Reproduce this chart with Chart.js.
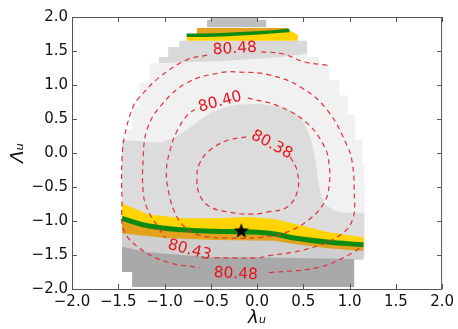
<!DOCTYPE html>
<html>
<head>
<meta charset="utf-8">
<script src="https://cdn.jsdelivr.net/npm/chart.js@4"></script>
<style>
  html, body { margin: 0; padding: 0; background: #fff; }
  #wrap { width: 458px; height: 329px; }
</style>
</head>
<body>
<div id="wrap"><canvas id="chart"></canvas></div>
<script>
const tickVals = [-2, -1.5, -1, -0.5, 0, 0.5, 1, 1.5, 2];

// filled regions, [lambda_u, Lambda_u]
const envelope = [[-1.16,1.32],[-1.06,1.32],[-1.06,1.41],[-0.96,1.41],[-0.96,1.56],[-0.84,1.56],[-0.84,1.65],
  [0.54,1.65],[0.54,1.41],[0.67,1.41],[0.67,1.29],[0.78,1.29],[0.78,1.07],[0.89,1.07],[0.89,0.85],[0.98,0.85],
  [0.98,0.56],[1.06,0.56],[1.06,0.19],[1.14,0.19],[1.14,-0.18],[1.16,-0.18],[1.16,-1.54],[-1.46,-1.54],
  [-1.46,0.19],[-1.41,0.19],[-1.41,0.34],[-1.35,0.34],[-1.35,0.68],[-1.27,0.68],[-1.27,1.03],[-1.16,1.03]];
const upperCap = [[-1.06,1.32],[-1.06,1.41],[-0.96,1.41],[-0.96,1.56],[-0.84,1.56],[-0.84,1.65],[0.54,1.65],
  [0.54,1.46],[0.24,1.41],[-0.08,1.38],[-0.40,1.35],[-0.73,1.34]];
const centerBlob = [[-1.46,0.19],[-1.05,0.15],[-0.90,0.22],[-0.76,0.34],[-0.51,0.59],[-0.36,0.67],[-0.22,0.71],
  [0.02,0.72],[0.25,0.68],[0.42,0.58],[0.51,0.44],[0.59,0.18],[0.63,-0.10],[0.66,-0.40],[0.69,-0.62],
  [0.74,-0.76],[0.84,-0.85],[0.96,-0.88],[1.16,-0.88],[1.16,-1.54],[-1.46,-1.54]];
const darkBase = [[-1.46,-1.38],[-1.18,-1.46],[-0.81,-1.50],[-0.46,-1.53],[0.26,-1.54],[1.05,-1.56],
  [1.05,-1.97],[-1.35,-1.97],[-1.35,-1.75],[-1.46,-1.75]];
const capBlock = [[-0.54,1.85],[-0.54,1.96],[-0.49,1.96],[-0.49,2.0],[0.01,2.0],[0.01,1.96],[0.10,1.96],[0.10,1.85]];
const capGold = [[-0.65,1.84],[0.33,1.84],[0.35,1.80],[0.03,1.77],[-0.40,1.74],[-0.65,1.735]];
const capGreen = [[-0.76,1.73],[-0.40,1.74],[0.03,1.77],[0.35,1.80]];
const capYellowEdge = [[0.44,1.74],[0.44,1.65],[-0.76,1.65]];

const bandYellowTop = [[-1.46,-0.74],[-1.18,-0.90],[-0.81,-0.96],[-0.46,-0.96],[-0.10,-0.94],[0.19,-0.97],[0.40,-1.04],[0.76,-1.16],[1.15,-1.24]];
const bandGreen = [[-1.46,-0.96],[-1.18,-1.07],[-0.81,-1.13],[-0.46,-1.15],[-0.10,-1.16],[0.19,-1.19],[0.40,-1.25],[0.76,-1.31],[1.15,-1.35]];
const bandOrangeBottom = [[-1.46,-1.18],[-1.00,-1.25],[-0.46,-1.28],[0.19,-1.29],[0.40,-1.34],[0.76,-1.40],[1.15,-1.44]];

// contour levels (dashed), broken where the labels sit
const c38 = [[0.36,-0.06],[0.43,-0.25],[0.44,-0.54],[0.33,-0.79],[0.11,-0.87],[-0.08,-0.90],[-0.30,-0.87],
  [-0.51,-0.79],[-0.62,-0.62],[-0.65,-0.37],[-0.62,-0.15],[-0.51,0.04],[-0.33,0.18],[-0.11,0.24]];
const c40 = [[-0.10,0.81],[0.25,0.68],[0.54,0.44],[0.73,0.09],[0.78,-0.18],[0.78,-0.47],[0.73,-0.72],[0.58,-0.96],
  [0.33,-1.16],[0.04,-1.24],[-0.32,-1.25],[-0.62,-1.21],[-0.78,-1.09],[-0.89,-0.87],[-0.96,-0.54],[-0.98,-0.25],
  [-0.94,0.04],[-0.87,0.31],[-0.75,0.56],[-0.65,0.66]];
const c43 = [[-0.46,-1.54],[0.01,-1.54],[0.13,-1.51],[0.49,-1.43],[0.86,-1.24],[1.03,-0.99],[1.05,-0.54],[1.03,-0.15],
  [0.98,0.09],[0.76,0.63],[0.47,0.97],[0.13,1.15],[-0.19,1.19],[-0.40,1.18],[-0.76,1.03],[-1.05,0.68],[-1.19,0.34],
  [-1.23,-0.06],[-1.23,-0.59],[-1.18,-0.84],[-1.07,-1.09],[-0.99,-1.25]];
const c48a = [[0.76,1.29],[0.51,1.34],[0.27,1.46],[0.03,1.49]];
const c48b = [[-0.54,1.44],[-0.76,1.37],[-1.05,1.12],[-1.27,0.82],[-1.34,0.68],[-1.43,0.26],[-1.46,-0.10],
  [-1.46,-0.69],[-1.44,-1.13],[-1.27,-1.40],[-0.98,-1.60],[-0.62,-1.69]];
const c48c = [[0.13,-1.76],[0.67,-1.68],[1.03,-1.47],[1.15,-1.35]];

const levelLabels = [
  { text: "80.48", x: -0.24, y: 1.53, rot: -3 },
  { text: "80.40", x: -0.40, y: 0.75, rot: -15 },
  { text: "80.38", x: 0.16, y: 0.12, rot: 28 },
  { text: "80.43", x: -0.73, y: -1.43, rot: 15 },
  { text: "80.48", x: -0.23, y: -1.78, rot: 3 },
];

const bestFit = [{ x: -0.17, y: -1.15 }];

const pts = (a) => a.map(([x, y]) => ({ x, y }));
const fmt = (v) => v.toFixed(1).replace("-", "\u2212");

function starImage(r) {
  const c = document.createElement("canvas");
  c.width = c.height = 2 * r + 2;
  const g = c.getContext("2d");
  g.beginPath();
  for (let i = 0; i < 10; i++) {
    const a = -Math.PI / 2 + (i * Math.PI) / 5;
    const rr = i % 2 ? r * 0.42 : r;
    g.lineTo(r + 1 + rr * Math.cos(a), r + 1 + rr * Math.sin(a));
  }
  g.closePath();
  g.fillStyle = "#000";
  g.fill();
  return c;
}

const regions = [
  [envelope, "#f1f1f1"],
  [upperCap, "#d9d9d9"],
  [centerBlob, "#dcdcdc"],
  [bandGreen.concat([[1.15, -1.57], [-1.46, -1.57]]), "#cfcfcf"],
  [darkBase, "#a9a9a9"],
  [capBlock, "#bfbfbf"],
  [capGold, "#e3a21c"],
  [capGreen.concat(capYellowEdge), "#ffd400"],
  [bandYellowTop.concat(bandGreen.slice().reverse()), "#ffd400"],
  [bandGreen.concat(bandOrangeBottom.slice().reverse()), "#e3a21c"],
];

const mapPlugin = {
  id: "mapPlugin",
  beforeDatasetsDraw(chart) {
    const { ctx, chartArea: a, scales: { x, y } } = chart;
    ctx.save();
    ctx.beginPath();
    ctx.rect(a.left, a.top, a.right - a.left, a.bottom - a.top);
    ctx.clip();
    regions.forEach(([poly, color]) => {
      ctx.beginPath();
      poly.forEach(([px, py], i) => {
        const X = x.getPixelForValue(px), Y = y.getPixelForValue(py);
        if (i) ctx.lineTo(X, Y); else ctx.moveTo(X, Y);
      });
      ctx.closePath();
      ctx.fillStyle = color;
      ctx.fill();
    });
    ctx.restore();
  },
  afterDatasetsDraw(chart) {
    const { ctx, scales: { x, y } } = chart;
    ctx.save();
    ctx.font = "15.5px 'DejaVu Sans'";
    ctx.fillStyle = "#e8141c";
    ctx.textAlign = "center";
    ctx.textBaseline = "middle";
    levelLabels.forEach((l) => {
      ctx.save();
      ctx.translate(x.getPixelForValue(l.x), y.getPixelForValue(l.y));
      ctx.rotate((l.rot * Math.PI) / 180);
      ctx.fillText(l.text, 0, 0);
      ctx.restore();
    });
    ctx.restore();
  },
  afterDraw(chart) {
    const { ctx, chartArea: a, scales: { x, y } } = chart;
    ctx.save();
    ctx.strokeStyle = "#555";
    ctx.lineWidth = 1;
    ctx.strokeRect(a.left + 0.5, a.top + 0.5, a.right - a.left - 1, a.bottom - a.top);
    ctx.beginPath();
    tickVals.forEach((v) => {
      const X = Math.round(x.getPixelForValue(v)) + 0.5;
      const Y = Math.round(y.getPixelForValue(v)) + 0.5;
      ctx.moveTo(X, a.bottom); ctx.lineTo(X, a.bottom - 5);
      ctx.moveTo(X, a.top); ctx.lineTo(X, a.top + 5);
      ctx.moveTo(a.left, Y); ctx.lineTo(a.left + 5, Y);
      ctx.moveTo(a.right, Y); ctx.lineTo(a.right - 5, Y);
    });
    ctx.stroke();
    ctx.restore();
  },
};

const contour = (arr) => ({
  data: pts(arr),
  showLine: true,
  pointRadius: 0,
  borderColor: "#e0303a",
  borderWidth: 1.2,
  borderDash: [5, 4],
  tension: 0.4,
  order: 3,
});
const greenLine = (arr, w) => ({
  data: pts(arr),
  showLine: true,
  pointRadius: 0,
  borderColor: "#0b8a12",
  borderWidth: w,
  tension: 0.4,
  order: 4,
});

new Chart(document.getElementById("chart"), {
  type: "scatter",
  data: {
    datasets: [
      {
        data: bestFit,
        pointStyle: starImage(8),
        pointRadius: 8,
        order: 1,
      },
      contour(c38),
      contour(c40),
      contour(c43),
      contour(c48a),
      contour(c48b),
      contour(c48c),
      greenLine(bandGreen, 5),
      greenLine(capGreen, 3.5),
    ],
  },
  options: {
    responsive: true,
    maintainAspectRatio: false,
    animation: false,
    layout: { padding: { top: 17, right: 15, left: 0, bottom: 0 } },
    plugins: { legend: { display: false }, tooltip: { enabled: false } },
    scales: {
      x: {
        type: "linear",
        min: -2,
        max: 2,
        afterBuildTicks: (s) => { s.ticks = tickVals.map((v) => ({ value: v })); },
        afterFit: (s) => { s.height = 40; },
        ticks: { callback: fmt, font: { family: "DejaVu Sans", size: 15 }, color: "#111", padding: 4, maxRotation: 0 },
        grid: { display: false, drawTicks: false },
        border: { display: false },
        title: {
          display: true,
          text: "λᵤ",
          font: { family: "DejaVu Sans", style: "italic", size: 18 },
          color: "#111",
          padding: { top: 0, bottom: 0 },
        },
      },
      y: {
        type: "linear",
        min: -2,
        max: 2,
        afterBuildTicks: (s) => { s.ticks = tickVals.map((v) => ({ value: v })); },
        afterFit: (s) => { s.width = 72; },
        ticks: { callback: fmt, font: { family: "DejaVu Sans", size: 15 }, color: "#111", padding: 4 },
        grid: { display: false, drawTicks: false },
        border: { display: false },
        title: {
          display: true,
          text: "Λᵤ",
          font: { family: "DejaVu Sans", style: "italic", size: 18 },
          color: "#111",
          padding: { top: 8, bottom: 0 },
        },
      },
    },
  },
  plugins: [mapPlugin],
});
</script>
</body>
</html>
